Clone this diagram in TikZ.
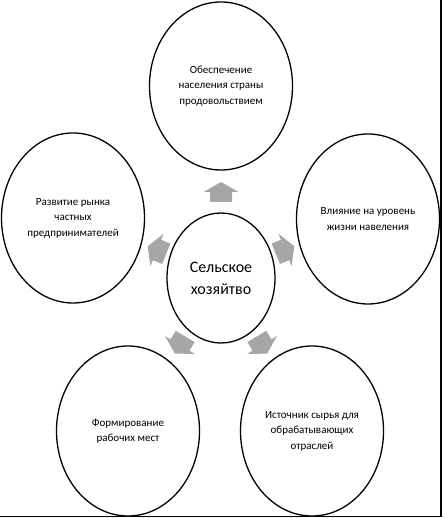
\documentclass[tikz,border=0pt]{standalone}
\usepackage{fontspec}
\setmainfont{Carlito}
\usepackage{xcolor}
\usetikzlibrary{shapes.geometric}

\definecolor{arrowgray}{HTML}{A6A6A6}

\begin{document}
\begin{tikzpicture}[x=1pt, y=1pt,
    bubble/.style={draw, ellipse, line width=1.3pt, inner sep=0pt, align=center,
                   minimum width=143pt, minimum height=170pt,
                   font=\fontsize{11}{15.5}\selectfont}]
    \useasboundingbox (0,0) rectangle (442,518);

    % centre
    \node[draw, ellipse, line width=1.3pt, inner sep=0pt, align=center,
          minimum width=108pt, minimum height=130pt,
          font=\fontsize{16}{22}\selectfont] (farm) at (221,240) {Сельское\\хозяйтво};

    % satellites
    \node[bubble, minimum height=168pt] (food) at (221,432) {Обеспечение\\населения страны\\продовольствием};
    \node[bubble] (market) at (73,300) {Развитие рынка\\частных\\предпринимателей};
    \node[bubble] (income) at (368,299) {Влияние на уровень\\жизни навеления};
    \node[bubble] (jobs) at (128,87) {Формирование\\рабочих мест};
    \node[bubble] (industry) at (312,87) {Источник сырья для\\обрабатывающих\\отраслей};

    % block arrows
    \foreach \px/\py/\ang in {221/326/90, 157/268/158, 285/268/22, 180/173/239, 262/173/301}
        \fill[arrowgray, shift={(\px,\py)}, rotate=\ang]
            (-10,-11) -- (0,-11) -- (0,-17.5) -- (10,0) -- (0,17.5) -- (0,11) -- (-10,11) -- cycle;

    % frame edges
    \draw[line width=1.5pt] (441,518) -- (441,1.5) -- (0,1.5);
\end{tikzpicture}
\end{document}
